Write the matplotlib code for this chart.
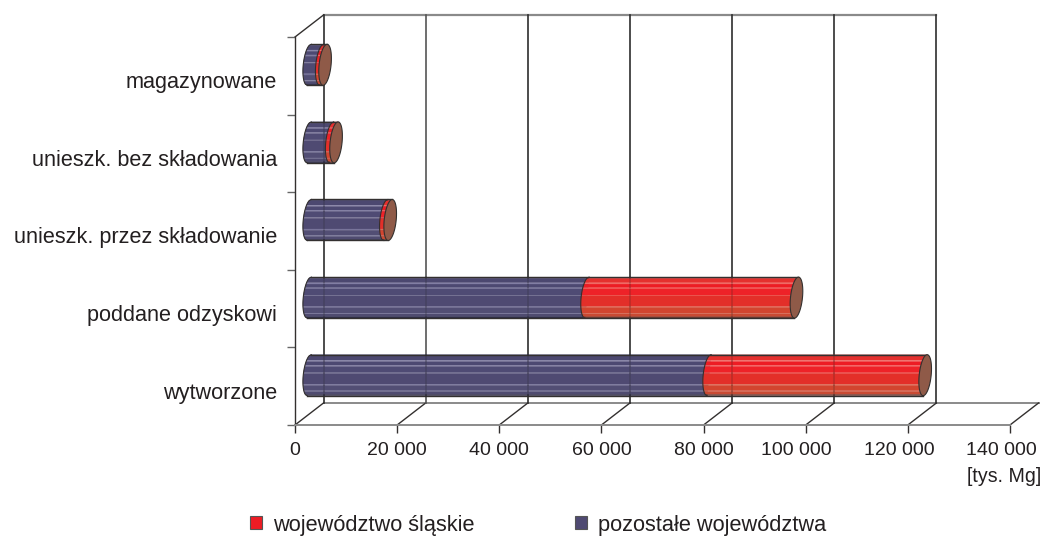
import matplotlib
matplotlib.use("Agg")
import matplotlib.pyplot as plt
import numpy as np
from matplotlib.patches import Polygon, Patch
from matplotlib.transforms import ScaledTranslation

plt.rcParams['font.family'] = ['Liberation Sans', 'DejaVu Sans']

# data, bottom to top, in tys. Mg
categories = ["wytworzone", "poddane odzyskowi", "unieszk. przez składowanie",
              "unieszk. bez składowania", "magazynowane"]
pozostale = [78300, 54400, 15000, 4400, 2450]
slaskie = [42300, 41000, 850, 850, 650]
x_ticks = [0, 20000, 40000, 60000, 80000, 100000, 120000, 140000]
x_labels = ["0", "20 000", "40 000", "60 000", "80 000", "100 000", "120 000", "140 000"]

RED = "#ed1c24"
PURPLE = "#4f4a72"
CAP = "#8f5a48"
EDGE = "#33302f"
GRAY = "#8a8a8a"
TEXT = "#231f20"

# depth of the fake 3d box, in data units
DX = 28.5 / 715 * 140000
DY = 22 / 388 * 5
BAR_H = 20.5 / 388 * 5   # half height
CAP_A = 6 / 715 * 140000
SLANT = 2 / 715 * 140000

# strips across the cylinder, from top (0) to bottom (1)
red_strips = [(0.00, 0.03, "#8f3a36"), (0.03, 0.14, "#e5302e"), (0.14, 0.17, "#f0706a"),
              (0.17, 0.26, RED), (0.26, 0.29, "#f2605c"), (0.29, 0.44, "#ee2228"),
              (0.44, 0.46, "#ec5850"), (0.46, 0.72, "#e32f29"), (0.72, 0.75, "#dd6a55"),
              (0.75, 0.88, "#d2452f"), (0.88, 0.90, "#d8705c"), (0.90, 0.97, "#c94a33"),
              (0.97, 1.00, "#6e3a32")]
purple_strips = [(0.00, 0.03, "#35325a"), (0.03, 0.14, "#4c4870"), (0.14, 0.17, "#8783a8"),
                 (0.17, 0.26, "#4d4972"), (0.26, 0.29, "#7f7ba0"), (0.29, 0.44, "#4f4b74"),
                 (0.44, 0.46, "#7a7698"), (0.46, 0.72, PURPLE), (0.72, 0.75, "#77739a"),
                 (0.75, 0.88, "#524e74"), (0.88, 0.90, "#7d7a9c"), (0.90, 0.97, "#4f4b70"),
                 (0.97, 1.00, "#2f2d48")]


def end_x(cx, v):
    """bulging end of a cylinder at height v (-1..1), to the left of cx"""
    return cx - CAP_A * np.sqrt(np.clip(1 - v ** 2, 0, 1)) + SLANT * v


def draw_segment(ax, start, stop, yc, strips):
    for top, bottom, color in strips:
        v = np.linspace(1 - 2 * top, 1 - 2 * bottom, 12)
        left = end_x(start, v)
        right = stop + SLANT * v
        pts = np.r_[np.c_[left, yc + v * BAR_H], np.c_[right[::-1], yc + v[::-1] * BAR_H]]
        ax.add_patch(Polygon(pts, closed=True, fc=color, ec=color, lw=0.2, zorder=4, clip_on=False))
    # dark arc at the start of the segment
    v = np.linspace(-1, 1, 40)
    ax.plot(end_x(start, v), yc + v * BAR_H, color=EDGE, lw=0.8, zorder=5, clip_on=False)


def draw_cap(ax, cx, yc):
    t = np.linspace(0, 2 * np.pi, 60)
    pts = np.c_[cx + CAP_A * np.cos(t) + SLANT * np.sin(t), yc + BAR_H * np.sin(t)]
    ax.add_patch(Polygon(pts, closed=True, fc=CAP, ec=EDGE, lw=0.8, zorder=6, clip_on=False))


fig = plt.figure(figsize=(10.42, 5.36), dpi=100)
ax = fig.add_axes([295 / 1042, (536 - 425) / 536, 715 / 1042, 388 / 536])
ax.set_xlim(0, 140000)
ax.set_ylim(0, 5)

# back wall and floor
ax.plot([DX, 120000 + DX], [5 + DY, 5 + DY], color=GRAY, lw=1.6, clip_on=False, zorder=1)
ax.plot([DX, 140000 + DX], [DY, DY], color=GRAY, lw=1.4, clip_on=False, zorder=1)
ax.plot([0, DX], [5, 5 + DY], color=EDGE, lw=1, clip_on=False, zorder=1)
for t in x_ticks:
    ax.plot([t, t + DX], [0, DY], color=EDGE, lw=1, clip_on=False, zorder=1)
    if t <= 120000:
        ax.plot([t + DX, t + DX], [DY, 5 + DY], color="#2e2e2e" if t != 20000 else "#555555",
                lw=1.2, clip_on=False, zorder=1)

# cylinders stand half way into the box
for i in range(len(categories)):
    yc = i + 0.5 + DY / 2
    p0 = DX / 2
    p1 = p0 + pozostale[i]
    p2 = p1 + slaskie[i]
    draw_segment(ax, p0, p1, yc, purple_strips)
    draw_segment(ax, p1, p2, yc, red_strips)
    for sign in (1, -1):
        ax.plot([p0 + SLANT * sign, p2 + SLANT * sign], [yc + sign * BAR_H] * 2,
                color=EDGE, lw=1, zorder=5, clip_on=False)
    draw_cap(ax, p2, yc)
    # grid shows faintly through the bars
    for t in x_ticks[:7]:
        if p0 - CAP_A < t + DX < p2:
            ax.plot([t + DX] * 2, [yc - BAR_H, yc + BAR_H], color="#222222", alpha=0.2,
                    lw=1.2, zorder=5.5, clip_on=False)

for s in ("top", "right"):
    ax.spines[s].set_visible(False)
ax.spines["left"].set_color(EDGE)
ax.spines["left"].set_linewidth(1.0)
ax.spines["bottom"].set_color(GRAY)
ax.spines["bottom"].set_linewidth(1.4)

ax.set_xticks(x_ticks)
ax.set_xticklabels(x_labels, fontsize=14, color=TEXT)
ax.tick_params(axis="x", length=5.5, width=1, color=EDGE, pad=7)
# the three widest labels sit left of their ticks in the original
for lab in ax.get_xticklabels()[5:]:
    lab.set_transform(lab.get_transform() + ScaledTranslation(-0.09, 0, fig.dpi_scale_trans))

# category labels on the major ticks, tick marks on the band limits
ax.set_yticks(np.arange(len(categories)) + 0.5)
ax.set_yticklabels(categories, fontsize=15.6, color=TEXT)
ax.set_yticks(np.arange(6), minor=True)
ax.tick_params(axis="y", which="major", length=0, pad=13)
ax.tick_params(axis="y", which="minor", length=5.5, width=1, color="#666666")
for lab in ax.get_yticklabels():
    lab.set_transform(lab.get_transform() + ScaledTranslation(0, -0.045, fig.dpi_scale_trans))

fig.text(1041.5 / 1042, 1 - 477 / 536, "[tys. Mg]", ha="right", va="center", fontsize=14.1, color=TEXT)

handles = [Patch(fc=RED, ec="#555555", lw=0.8, label="województwo śląskie"),
           Patch(fc=PURPLE, ec="#555555", lw=0.8, label="pozostałe województwa")]
fig.legend(handles=handles, ncol=2, frameon=False, fontsize=15.7, labelcolor=TEXT,
           loc="center left", bbox_to_anchor=(250 / 1042, 1 - 525 / 536),
           handlelength=0.55, handleheight=0.55, handletextpad=0.5, columnspacing=4.6,
           borderpad=0, borderaxespad=0)

fig.savefig("out.png", dpi=100)
